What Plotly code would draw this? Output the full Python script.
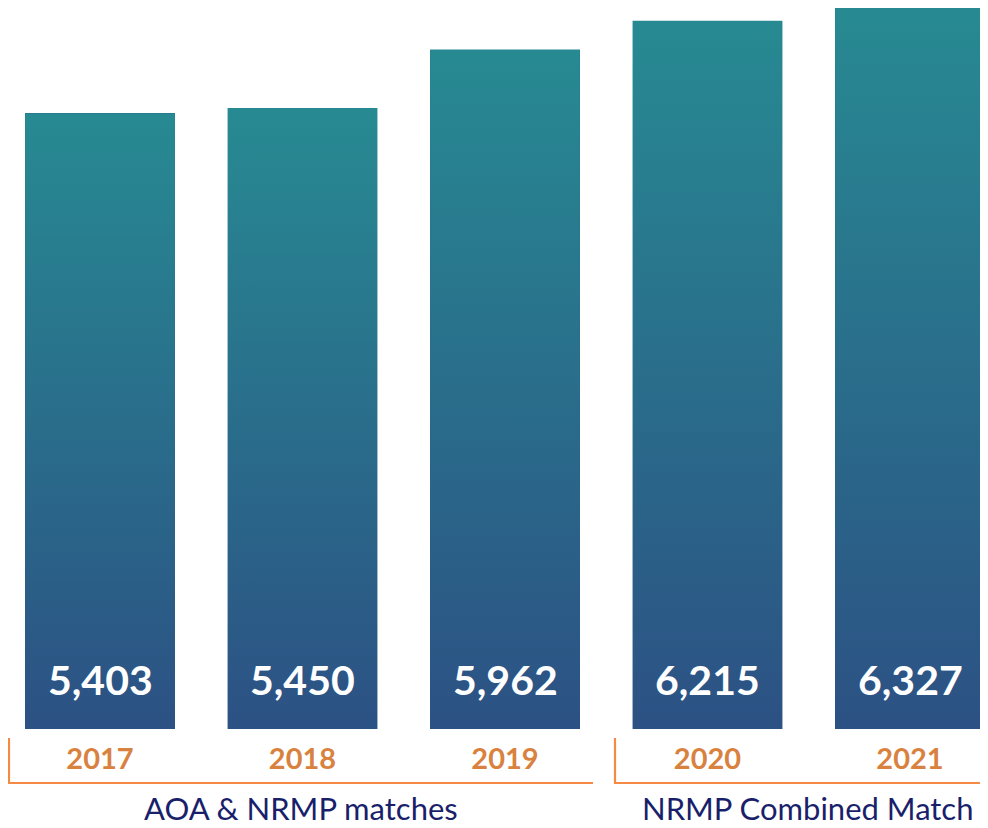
import plotly.graph_objects as go

years = ["2017", "2018", "2019", "2020", "2021"]
matches = [5403, 5450, 5962, 6215, 6327]
groups = ["AOA & NRMP matches", "NRMP Combined Match"]

TOP = "#278a92"
BOTTOM = "#2c5184"
ORANGE = "#d9823f"
BRACKET = "#f58a45"
NAVY = "#1a1f6b"
BAR_W = 0.74

# page is offset 8px by the body margin, so the figure is 8px smaller
OFF = 8
FW, FH = 988 - OFF, 828 - OFF
BASE = 729 - OFF  # pixel row of the bar baseline inside the figure

xs = list(range(len(years)))

fig = go.Figure()
# base bars carry the data; gradient fill is laid over each one
fig.add_trace(go.Bar(
    x=xs, y=matches, width=BAR_W, marker=dict(color=BOTTOM, line=dict(width=0)),
    hovertemplate="%{y:,}<extra></extra>", showlegend=False,
))
for i, v in zip(xs, matches):
    x0, x1 = i - BAR_W / 2, i + BAR_W / 2
    fig.add_trace(go.Scatter(
        x=[x0, x1, x1, x0, x0], y=[0, 0, v, v, 0], mode="lines", fill="toself",
        line=dict(width=0, color="rgba(0,0,0,0)"),
        fillgradient=dict(type="vertical", colorscale=[[0, BOTTOM], [1, TOP]]),
        hoverinfo="skip", showlegend=False,
    ))

for i, v in zip(xs, matches):
    fig.add_annotation(
        x=i, y=0, yshift=50, text=f"<b>{v:,}</b>", showarrow=False,
        font=dict(family="Lato, 'Open Sans', sans-serif", size=41, color="white"),
    )


# page pixel -> paper units
def px(p):
    return (p - OFF) / FW


def py(p):
    return (729 - p) / BASE


# brackets under the two groups
for xa, xb in [(9, 593), (615, 995)]:
    fig.add_shape(type="path",
                  path=f"M {px(xa)} {py(738)} L {px(xa)} {py(783)} L {px(xb)} {py(783)}",
                  xref="paper", yref="paper", line=dict(color=BRACKET, width=2.2))

for label, cx in zip(groups, [301, 807]):
    fig.add_annotation(
        x=px(cx), y=py(828), xref="paper", yref="paper", text=label, showarrow=False,
        xanchor="center", yanchor="bottom", borderpad=0,
        font=dict(family="Lato, 'Open Sans', sans-serif", size=31, color=NAVY),
    )

fig.update_layout(
    width=FW, height=FH, paper_bgcolor="white", plot_bgcolor="white",
    margin=dict(l=0, r=0, t=0, b=FH - BASE), bargap=0,
    xaxis=dict(range=[-92 / 202.5, 888 / 202.5], tickvals=xs,
               ticktext=[f"<b>{y}</b>" for y in years], showgrid=False, zeroline=False,
               showline=False, ticks="", ticklabelstandoff=10,
               tickfont=dict(family="Lato, 'Open Sans', sans-serif", size=29, color=ORANGE),
               fixedrange=True),
    yaxis=dict(range=[0, BASE / 0.11396], visible=False, fixedrange=True),
    showlegend=False,
)

fig.write_html("out.html")
